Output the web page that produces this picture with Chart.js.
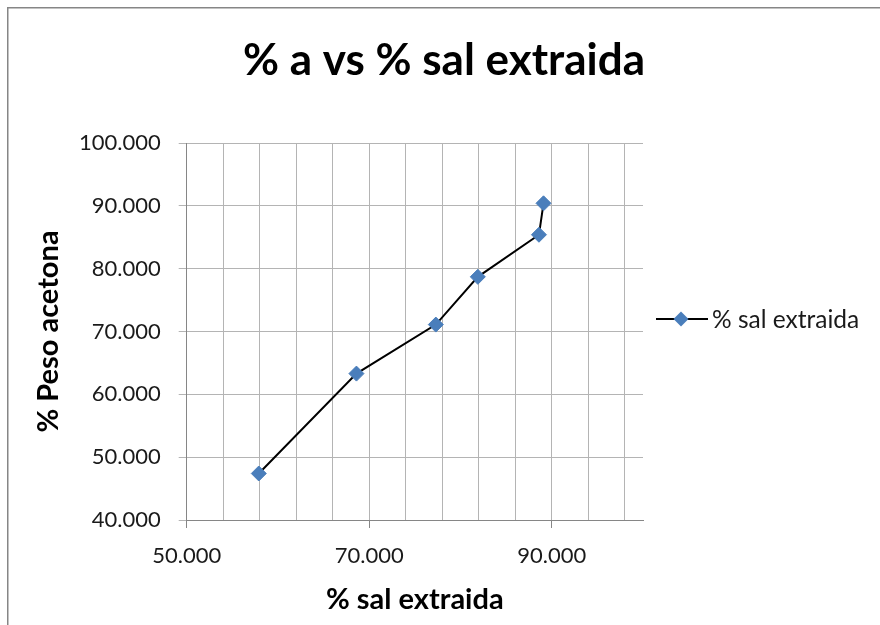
<!DOCTYPE html>
<html>
<head>
<meta charset="utf-8">
<script src="https://cdn.jsdelivr.net/npm/chart.js@4.4.1/dist/chart.umd.min.js"></script>
<style>
  html, body { margin: 0; padding: 0; background: #ffffff; }
  #wrap { width: 880px; height: 625px; position: relative; }
</style>
</head>
<body>
<div id="wrap"><canvas id="c" width="880" height="625"></canvas></div>
<script>
// % sal extraida (x) against % peso acetona (y)
const salExtraida = [57.9, 68.6, 77.3, 81.9, 88.6, 89.1];
const pesoAcetona = [47.4, 63.3, 71.1, 78.7, 85.4, 90.4];

const chartTitle = '% a vs % sal extraida';
const seriesName = '% sal extraida';
const xTitle = '% sal extraida';
const yTitle = '% Peso acetona';

// axis ranges: x gridlines every 4, labels every 20; y every 10
const xMin = 50, xMax = 100, xGridStep = 4, xLabelStep = 20;
const yMin = 40, yMax = 100, yStep = 10;

const FONT = 'Lato, "Open Sans", sans-serif';
const GRID = '#b4b4b4';
const AXIS = '#868686';
const MARK = '#4a7ebb';

const points = salExtraida.map((x, i) => ({ x: x, y: pesoAcetona[i] }));

// frame, title and legend drawn around the plot
const decor = {
  id: 'decor',
  beforeDraw(chart) {
    const ctx = chart.ctx;
    ctx.save();
    ctx.fillStyle = '#ffffff';
    ctx.fillRect(0, 0, chart.width, chart.height);
    ctx.strokeStyle = AXIS;
    ctx.lineWidth = 1.5;
    ctx.strokeRect(7.75, 7.75, chart.width + 20, chart.height + 20);
    ctx.restore();
  },
  afterDraw(chart) {
    const ctx = chart.ctx;
    ctx.save();
    ctx.fillStyle = '#000000';
    ctx.font = 'bold 44px ' + FONT;
    ctx.textAlign = 'center';
    ctx.textBaseline = 'middle';
    ctx.fillText(chartTitle, 444, 61);

    // legend entry: line with a diamond marker, then the series name
    const ly = 319;
    ctx.strokeStyle = '#000000';
    ctx.lineWidth = 2;
    ctx.beginPath();
    ctx.moveTo(656, ly);
    ctx.lineTo(708, ly);
    ctx.stroke();
    const r = chart.data.datasets[0].pointRadius;
    ctx.fillStyle = MARK;
    ctx.beginPath();
    ctx.moveTo(681, ly - r); ctx.lineTo(681 + r, ly); ctx.lineTo(681, ly + r); ctx.lineTo(681 - r, ly);
    ctx.closePath();
    ctx.fill();
    ctx.fillStyle = '#1a1a1a';
    ctx.font = '24.5px ' + FONT;
    ctx.textAlign = 'left';
    ctx.fillText(seriesName, 712, ly + 1);
    ctx.restore();
  }
};

new Chart(document.getElementById('c'), {
  type: 'scatter',
  data: {
    datasets: [{
      label: seriesName,
      data: points,
      showLine: true,
      borderColor: '#000000',
      borderWidth: 2,
      pointStyle: 'rectRot',
      pointRadius: 7.5,
      pointHoverRadius: 7.5,
      pointBackgroundColor: MARK,
      pointBorderColor: MARK,
      pointBorderWidth: 1,
      tension: 0
    }]
  },
  options: {
    responsive: false,
    animation: false,
    events: [],
    layout: { padding: { left: 8, top: 143, right: 237, bottom: 0 } },
    plugins: {
      legend: { display: false },
      title: { display: false },
      tooltip: { enabled: false }
    },
    scales: {
      x: {
        type: 'linear',
        min: xMin,
        max: xMax,
        afterBuildTicks(scale) {
          const t = [];
          for (let v = xMin; v < xMax; v += xGridStep) t.push({ value: v });
          scale.ticks = t;
        },
        afterFit(scale) { scale.height = 105; },
        grid: {
          color: GRID,
          lineWidth: 1,
          drawTicks: true,
          tickLength: 8,
          tickColor: (c) => ((c.tick && (c.tick.value - xMin) % xLabelStep === 0) ? AXIS : 'rgba(0,0,0,0)')
        },
        border: { color: AXIS, width: 1 },
        ticks: {
          autoSkip: false,
          maxRotation: 0,
          padding: 15,
          color: '#1a1a1a',
          font: { family: FONT, size: 22 },
          callback: (v) => ((v - xMin) % xLabelStep === 0 ? Number(v).toFixed(3) : '')
        },
        title: {
          display: true,
          text: xTitle,
          color: '#000000',
          font: { family: FONT, size: 29, weight: 'bold' },
          padding: { top: 0, bottom: 8 }
        }
      },
      y: {
        type: 'linear',
        min: yMin,
        max: yMax,
        afterFit(scale) { scale.width = 178.7; },
        grid: {
          color: GRID,
          lineWidth: 1,
          drawTicks: true,
          tickLength: 8,
          tickColor: GRID
        },
        border: { color: AXIS, width: 1 },
        ticks: {
          stepSize: yStep,
          padding: 18,
          color: '#1a1a1a',
          font: { family: FONT, size: 22 },
          callback: (v) => Number(v).toFixed(3)
        },
        title: {
          display: true,
          text: yTitle,
          color: '#000000',
          font: { family: FONT, size: 29, weight: 'bold' },
          padding: { top: 23, bottom: 0 }
        }
      }
    }
  },
  plugins: [decor]
});
</script>
</body>
</html>
